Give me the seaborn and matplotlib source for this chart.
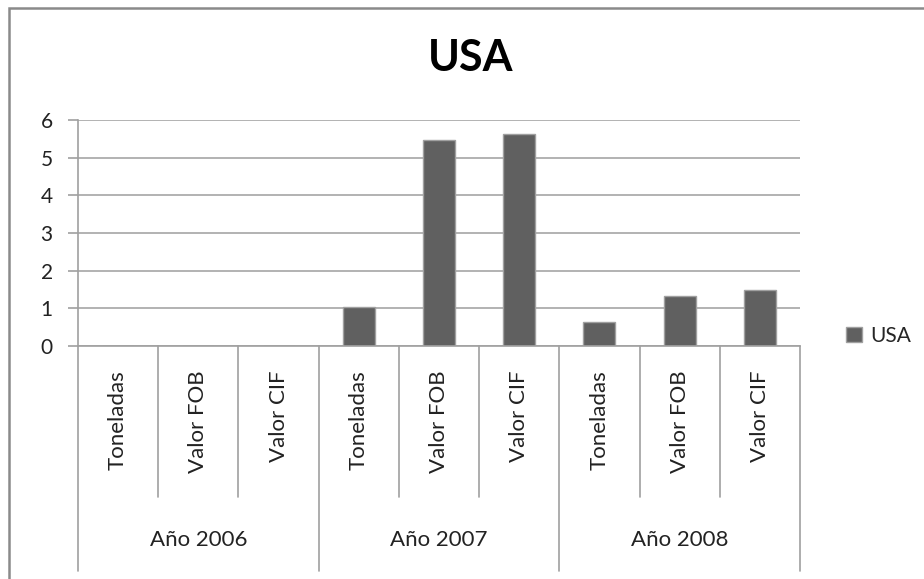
import matplotlib
matplotlib.use("Agg")
import matplotlib.pyplot as plt
from matplotlib.patches import Rectangle, Patch
import seaborn as sns
import pandas as pd

# ---- data ----
years = ["Año 2006", "Año 2007", "Año 2008"]
measures = ["Toneladas", "Valor FOB", "Valor CIF"]
usa_2006 = [0, 0, 0]
usa_2007 = [1.04, 5.46, 5.63]
usa_2008 = [0.64, 1.34, 1.48]
series_name = "USA"
y_ticks = [0, 1, 2, 3, 4, 5, 6]

rows = []
for yr, vals in zip(years, [usa_2006, usa_2007, usa_2008]):
    for m, v in zip(measures, vals):
        rows.append({"year": yr, "measure": m, "key": yr + "|" + m, "value": v})
df = pd.DataFrame(rows)
order = list(df["key"])

sns.set_style("white")
plt.rcParams["font.family"] = ["Lato", "DejaVu Sans"]

W, H = 924, 579
fig = plt.figure(figsize=(W / 100, H / 100), dpi=100)
L, R, T, B = 78, 800, 120, 346
ax = fig.add_axes([L / W, 1 - B / H, (R - L) / W, (B - T) / H])

bar_color = "#606060"
sns.barplot(data=df, x="key", y="value", order=order, color=bar_color,
            width=0.4, edgecolor="#a0a0a0", linewidth=1.0, ax=ax,
            saturation=1, errorbar=None)

ax.set_ylim(0, 6)
ax.set_xlim(-0.5, len(order) - 0.5)
ax.set_yticks(y_ticks)
ax.set_yticklabels([str(t) for t in y_ticks], fontsize=15, color="#222222")
ax.set_xticks([])
ax.set_xlabel("")
ax.set_ylabel("")
ax.yaxis.grid(True, color="#a6a6a6", linewidth=1.2)
ax.set_axisbelow(True)
for s in ["top", "right"]:
    ax.spines[s].set_visible(False)
for s in ["left", "bottom"]:
    ax.spines[s].set_color("#a0a0a0")
    ax.spines[s].set_linewidth(1.2)
ax.tick_params(axis="y", length=7.2, width=1.2, color="#a0a0a0", pad=11,
               left=True)

tr = ax.get_xaxis_transform()
span = B - T
def ay(px):
    return (B - px) / span

# separators
for i in range(len(order) + 1):
    x = i - 0.5
    bottom = 571 if i % 3 == 0 else 497
    ax.plot([x, x], [0, ay(bottom)], transform=tr, color="#a0a0a0",
            lw=1.2, clip_on=False)

# measure labels (rotated)
for i, k in enumerate(order):
    m = k.split("|")[1]
    ax.text(i, ay(370), m, transform=tr, rotation=90, ha="center", va="top",
            fontsize=16, color="#222222")

# year labels
for j, yr in enumerate(years):
    ax.text(3 * j + 1, ay(540), yr, transform=tr, ha="center", va="center",
            fontsize=16, color="#222222")

# title
fig.text(471 / W, 1 - 58 / H, series_name, ha="center", va="center",
         fontsize=31, fontweight="bold", color="black")

# legend
handle = Patch(facecolor=bar_color, edgecolor="#a0a0a0")
fig.legend([handle], [series_name], loc="center left",
           bbox_to_anchor=(846 / W, 1 - 336 / H), frameon=False,
           handlelength=0.75, handleheight=0.75, handletextpad=0.4,
           borderpad=0, borderaxespad=0, fontsize=15)

# outer frame
fig.patches.append(Rectangle((9 / W, -0.1), 1.2, (1 - 8 / H) + 0.1,
                             transform=fig.transFigure, fill=False,
                             edgecolor="#8a8a8a", lw=1.8))

fig.savefig("out.png", dpi=100)
